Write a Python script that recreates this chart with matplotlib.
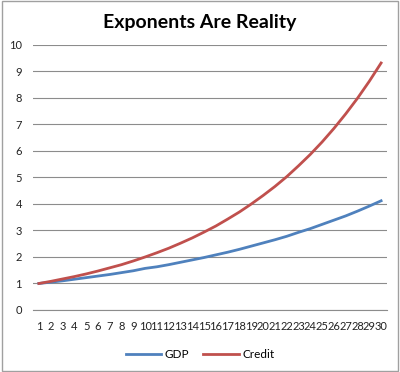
import matplotlib
matplotlib.use('Agg')
from matplotlib import pyplot as plt
from matplotlib.patches import Rectangle

# Values.
years = list(range(1, 31))
gdp = [1.00, 1.05, 1.10, 1.16, 1.22, 1.28, 1.34, 1.41, 1.48, 1.57,
       1.63, 1.71, 1.80, 1.89, 1.98, 2.08, 2.18, 2.29, 2.41, 2.53,
       2.65, 2.78, 2.93, 3.07, 3.23, 3.39, 3.55, 3.73, 3.92, 4.12]
credit = [1.00, 1.08, 1.17, 1.26, 1.36, 1.47, 1.59, 1.71, 1.85, 2.00,
          2.16, 2.33, 2.52, 2.72, 2.94, 3.17, 3.43, 3.70, 4.00, 4.32,
          4.66, 5.03, 5.44, 5.87, 6.34, 6.85, 7.40, 7.99, 8.63, 9.32]

plt.rcParams['font.family'] = ['Lato', 'DejaVu Sans']

fig = plt.figure(figsize=(4.0, 3.72), dpi=100)
ax = fig.add_axes([0.0825, 0.1667, 0.885, 0.7124])

ax.plot(years, gdp, color='#4F81BD', lw=2.0, label='GDP')
ax.plot(years, credit, color='#C0504D', lw=2.0, label='Credit')

ax.set_xlim(0.5, 30.5)
ax.set_ylim(0, 10)
ax.set_yticks(range(0, 11))
ax.set_xticks(years)
ax.grid(axis='y', color='#8C8C8C', lw=0.8)
ax.set_axisbelow(True)
for s in ['top', 'right', 'left']:
    ax.spines[s].set_visible(False)
ax.spines['bottom'].set_color('#8C8C8C')
ax.tick_params(length=0, labelsize=8, colors='#222222')
ax.tick_params(axis='x', pad=8)
ax.tick_params(axis='y', pad=8)

fig.text(0.5, 0.94, 'Exponents Are Reality', ha='center', va='center',
         fontsize=14, fontweight='bold')

fig.legend(loc='center', bbox_to_anchor=(0.5, 0.048), ncol=2, frameon=False,
           fontsize=8.5, handlelength=3.0, columnspacing=1.2, handletextpad=0.3)

fig.patches.append(Rectangle((0.004, 0.004), 0.992, 0.992, transform=fig.transFigure,
                             fill=False, edgecolor='#A0A0A0', lw=1))

fig.savefig('out.png', dpi=100, facecolor='white')
